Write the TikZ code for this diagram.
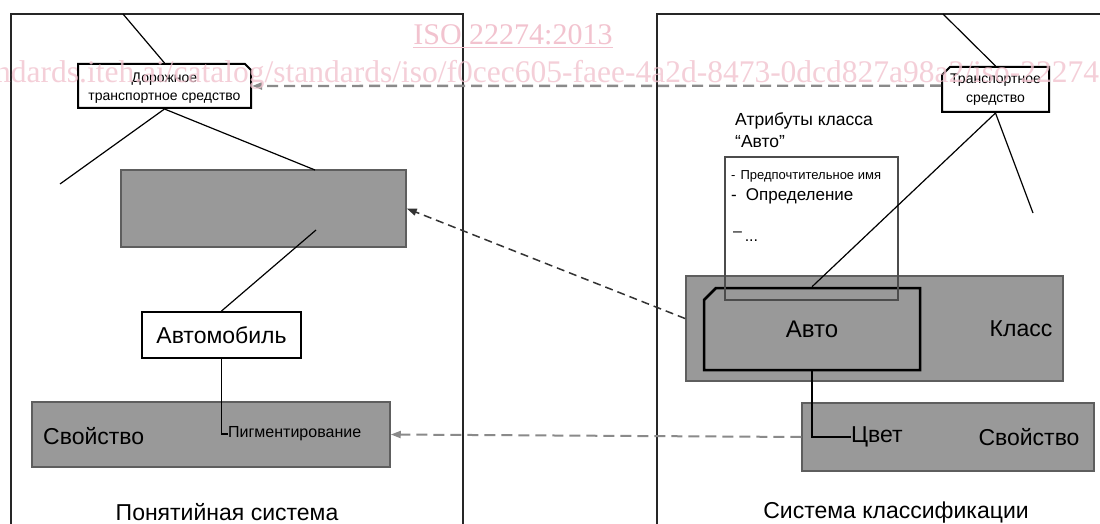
\documentclass[tikz,border=0pt]{standalone}
\usepackage{fontspec}
\setmainfont{Liberation Sans}
\newfontfamily\wmfont{Liberation Serif}
\usetikzlibrary{shapes.misc,arrows.meta}

\definecolor{boxgray}{HTML}{999999}
\definecolor{edgegray}{HTML}{5E5E5E}
\definecolor{dashgray}{HTML}{8A8A8A}
\definecolor{wmpink}{HTML}{F2C3CF}

\newcommand\txtsize[1]{\fontsize{#1}{#1}\selectfont}

\tikzset{
  grayblock/.style={draw=edgegray, line width=1.5pt, fill=boxgray, inner sep=0pt},
  conceptbox/.style={draw=black, line width=2pt, fill=white, inner sep=0pt, align=center, text=black},
  link/.style={draw=black, line width=1.2pt},
  frameline/.style={draw=black!85, line width=2.5pt},
  tip/.style={-{Triangle[length=10pt,width=7pt]}},
  mapgray/.style={tip, draw=dashgray, line width=2.4pt, dash pattern=on 11pt off 6pt},
  mapdark/.style={tip, draw=black!80, line width=1.5pt, dash pattern=on 8pt off 5pt},
  plain/.style={inner sep=0pt, text=black},
}

\begin{document}
\begin{tikzpicture}[x=1pt, y=-1pt]
\useasboundingbox[fill=white] (0,0) rectangle (1100,524);

% two system frames, open at the bottom / right
\draw[frameline] (11,540) -- (11,14) -- (463,14) -- (463,540);
\draw[frameline] (657,540) -- (657,14) -- (1120,14);

% ---------- concept system ----------
\node[grayblock, minimum width=285pt, minimum height=77pt] (hid) at (263.5,208.5) {};
\coordinate (hidtop) at (315,170);
\coordinate (hidin) at (316,230);

\node[conceptbox, chamfered rectangle, chamfered rectangle corners=north east,
      chamfered rectangle sep=3pt, minimum width=173pt, minimum height=44pt,
      font=\fontsize{14}{18}\selectfont] (road) at (164.5,86)
      {\rule{0pt}{14pt}Дорожное\\транспортное средство};
\coordinate (roadup) at (123,14);
\coordinate (roadleft) at (60,184);

\node[conceptbox, minimum width=159pt, minimum height=46pt, font=\txtsize{23}] (auto) at (221.5,335) {Автомобиль};

\node[grayblock, minimum width=358pt, minimum height=65pt] (propL) at (211,434.5) {};
\node[plain, font=\txtsize{23}, anchor=west] (propLtxt) at (43,436) {Свойство};
\node[plain, font=\txtsize{16}, anchor=west] (pigm) at (228,434) {Пигментирование};

\node[plain, font=\txtsize{23}] (sysL) at (227,512) {Понятийная система};

\draw[link] (roadup) -- (road.north);
\draw[link] (road.south) -- (roadleft);
\draw[link] (road.south) -- (hidtop);
\draw[link] (hidin) -- (auto.north);
\draw[link] (auto.south) |- (pigm.west);

% ---------- classification system ----------
\node[grayblock, minimum width=377pt, minimum height=105pt] (cls) at (874.5,328.5) {};
\node[plain, font=\txtsize{23}] (clstxt) at (1021,329) {Класс};

\node[draw=black, line width=2.5pt, chamfered rectangle, chamfered rectangle corners=north west,
      chamfered rectangle sep=6pt, inner sep=0pt, minimum width=216pt, minimum height=82pt,
      font=\txtsize{24}] (avto) at (812,329) {Авто};

\node[draw=black!70, line width=1.3pt, inner sep=0pt, minimum width=173pt, minimum height=143pt] (attr) at (811.5,228.5) {};
\node[plain, font=\txtsize{17.5}, anchor=base west] (attrt1) at (735,125.5) {Атрибуты класса};
\node[plain, font=\txtsize{17.5}, anchor=base west] (attrt2) at (735,147) {“Авто”};
\node[plain, font=\txtsize{13}, anchor=base west] (item1) at (731,179) {-\hspace{5pt}Предпочтительное имя};
\node[plain, font=\txtsize{17}, anchor=base west] (item2) at (731,200) {-\hspace{9pt}Определение};
\node[plain, font=\txtsize{16}, anchor=base west] (item3) at (733,241) {\raisebox{5pt}{–}\,...};

\node[conceptbox, chamfered rectangle, chamfered rectangle corners=north west,
      chamfered rectangle sep=4pt, minimum width=107pt, minimum height=45pt,
      font=\fontsize{14}{19}\selectfont] (veh) at (995.5,89.5)
      {Транспортное\\средство};
\coordinate (vehup) at (943,14);
\coordinate (vehright) at (1033,213);

\node[grayblock, minimum width=292pt, minimum height=68pt] (propR) at (948,437) {};
\node[plain, font=\txtsize{23}, anchor=west] (cvet) at (851,437) {Цвет};
\node[plain, font=\txtsize{23}] (propRtxt) at (1029,437) {Свойство};

\node[plain, font=\txtsize{23}] (sysR) at (896,513) {Система классификации};

\draw[link] (vehup) -- (veh.north);
\draw[link] (veh.south) -- (vehright);
\draw[link] (veh.south) -- (avto.north);
\draw[link] (avto.south) |- (cvet.west);

% ---------- mappings between the systems ----------
\draw[mapgray] (veh.176) -- (road.east);
\draw[mapdark] (cls.177) -- (hid.east);
\draw[mapgray, line width=2pt] (propR.west) -- (propL.east);

% ---------- document stamp ----------
\begin{scope}
\clip (0,0) rectangle (1100,524);
\node[inner sep=0pt, text=wmpink, font=\wmfont\txtsize{30}, anchor=base] (stamp) at (513,45) {ISO 22274:2013};
\draw[wmpink, line width=1.2pt] (stamp.south west) ++(0,2) -- ([yshift=-2pt]stamp.south east);
\node[inner sep=0pt, text=wmpink, opacity=0.8, font=\wmfont\txtsize{31.5}, anchor=base west] (url) at (-40,83)
  {standards.iteh.ai/catalog/standards/iso/f0cec605-faee-4a2d-8473-0dcd827a98a2/iso-22274-2013};
\end{scope}
\end{tikzpicture}
\end{document}
